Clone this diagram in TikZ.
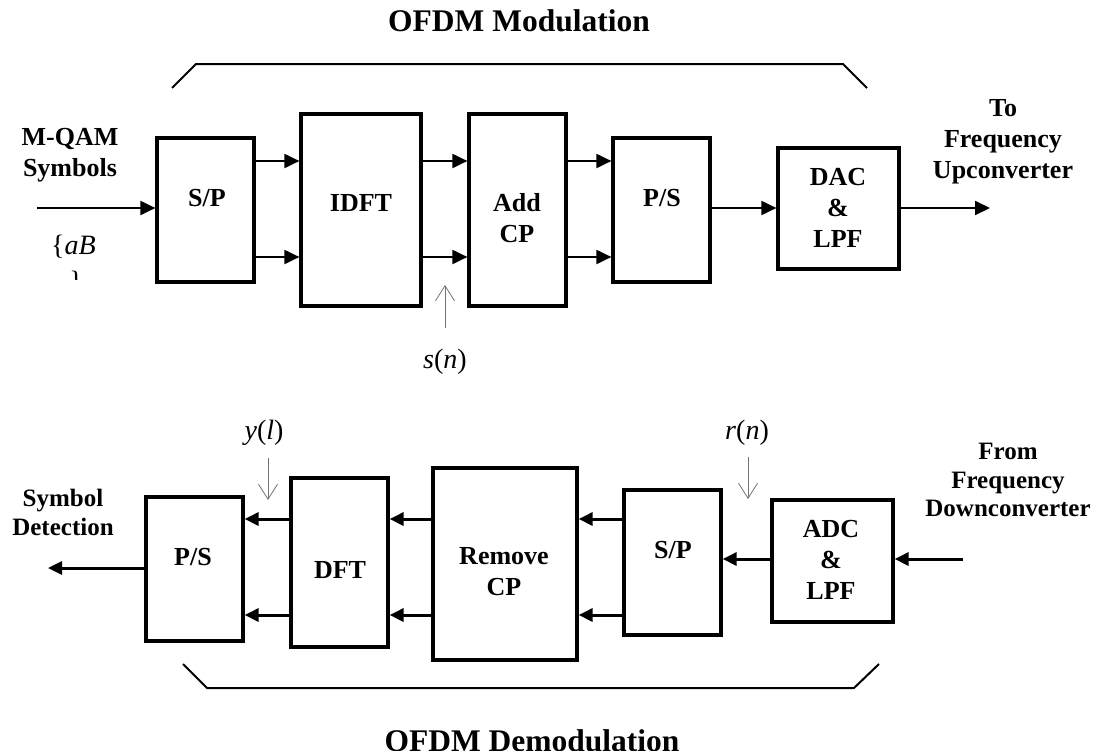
\documentclass[tikz,border=0pt]{standalone}
\usepackage{fontspec}
\setmainfont{Liberation Serif}
\usetikzlibrary{arrows.meta,calc}
\begin{document}
\begin{tikzpicture}[x=1pt,y=-1pt,
  box/.style={draw, line width=3.2pt, inner sep=0pt},
  lbl/.style={font=\fontsize{26}{31}\selectfont\bfseries, align=center, inner sep=0pt},
  side/.style={font=\fontsize{25}{28.5}\selectfont\bfseries, align=center, inner sep=0pt},
  arrT/.style={line width=2pt, -{Triangle[length=15pt,width=14pt]}},
  arrB/.style={line width=3pt, -{Triangle[length=14pt,width=13pt]}},
  sig/.style={line width=0.8pt, draw=black!55, -{Straight Barb[length=15pt,width=19pt,line width=0.8pt]}},
  bracket/.style={line width=2pt},
  ttl/.style={font=\fontsize{31.5}{36}\selectfont\bfseries, inner sep=0pt},
  mth/.style={font=\fontsize{28}{32}\selectfont, inner sep=0pt}
]
\useasboundingbox[fill=white] (0,0) rectangle (1097,755);

% titles (clipped like the original)
\begin{scope}
  \clip (0,0) rectangle (1097,31);
  \node[ttl, anchor=base] (t1) at (519,31) {OFDM Modulation};
\end{scope}
\begin{scope}
  \clip (0,700) rectangle (1097,750);
  \node[ttl, anchor=base] (t2) at (532,751) {OFDM Demodulation};
\end{scope}

% brackets
\draw[bracket] (172,88) -- (196,64) -- (843,64) -- (867,88);
\draw[bracket] (183,664) -- (207,688) -- (854,688) -- (879,664);

% ---------- top row ----------
\node[box, minimum width=97pt, minimum height=144pt] (sp1) at (205.5,210) {};
\node[box, minimum width=120pt, minimum height=192pt] (idft) at (361,210) {};
\node[box, minimum width=97pt, minimum height=192pt] (addcp) at (517.5,210) {};
\node[box, minimum width=97pt, minimum height=144pt] (ps1) at (661.5,210) {};
\node[box, minimum width=121pt, minimum height=121pt] (dac) at (838.5,208.5) {};

\node[lbl] (tsp1) at (207,198) {S/P};
\node[lbl] (tidft) at (361,203) {IDFT};
\node[lbl] (tadd) at (517,218) {Add\\CP};
\node[lbl] (tps1) at (662,198) {P/S};
\node[lbl] (tdac) at (838,208) {DAC\\\&\\LPF};

\node[lbl, anchor=north] (mqam) at (70,128) {M-QAM\\Symbols};
\node[lbl, anchor=north] (toup) at (1003,99) {To\\Frequency\\Upconverter};

\coordinate (ya) at (0,161);
\coordinate (yb) at (0,257);
\coordinate (ym) at (0,208);
\coordinate (inT) at (37,208);
\coordinate (outT) at (990,208);

\draw[arrT] (inT) -- (sp1.west |- inT);
\draw[arrT] (sp1.east |- ya) -- (idft.west |- ya);
\draw[arrT] (sp1.east |- yb) -- (idft.west |- yb);
\draw[arrT] (idft.east |- ya) -- (addcp.west |- ya);
\draw[arrT] (idft.east |- yb) -- (addcp.west |- yb);
\draw[arrT] (addcp.east |- ya) -- (ps1.west |- ya);
\draw[arrT] (addcp.east |- yb) -- (ps1.west |- yb);
\draw[arrT] (ps1.east |- ym) -- (dac.west |- ym);
\draw[arrT] (dac.east |- ym) -- (outT);

% {aB fragment
\node[mth, anchor=base west] (ab) at (51,254) {\{\textit{aB}};
\begin{scope}
  \clip (60,270) rectangle (95,279);
  \node[mth, anchor=north] (abc) at (76,271) {\}};
\end{scope}

% s(n)
\node[mth] (sn) at (445,362) {\textit{s}(\textit{n})};
\coordinate (snA) at (445,328);
\coordinate (snB) at (445,285);
\draw[sig] (snA) -- (snB);

% ---------- bottom row ----------
\node[box, minimum width=97pt, minimum height=144pt] (ps2) at (194.5,569) {};
\node[box, minimum width=97pt, minimum height=169pt] (dft) at (339.5,562.5) {};
\node[box, minimum width=144pt, minimum height=192pt] (rem) at (505,564) {};
\node[box, minimum width=97pt, minimum height=145pt] (sp2) at (672.5,562.5) {};
\node[box, minimum width=121pt, minimum height=122pt] (adc) at (832.5,561) {};

\node[lbl] (tps2) at (193,557) {P/S};
\node[lbl] (tdft) at (340,570) {DFT};
\node[lbl] (trem) at (504,572) {Remove\\CP};
\node[lbl] (tsp2) at (673,550) {S/P};
\node[lbl] (tadc) at (831,560) {ADC\\\&\\LPF};

\node[side, anchor=north] (symdet) at (63,489) {Symbol\\Detection};
\node[side, anchor=north] (fromdown) at (1008,443) {From\\Frequency\\Downconverter};

\coordinate (yc) at (0,519);
\coordinate (yd) at (0,615);
\coordinate (yin) at (0,559);
\coordinate (inB) at (963,559);
\coordinate (outB) at (48,568);

\draw[arrB] (inB) -- (adc.east |- inB);
\draw[arrB] (adc.west |- yin) -- (sp2.east |- yin);
\draw[arrB] (sp2.west |- yc) -- (rem.east |- yc);
\draw[arrB] (sp2.west |- yd) -- (rem.east |- yd);
\draw[arrB] (rem.west |- yc) -- (dft.east |- yc);
\draw[arrB] (rem.west |- yd) -- (dft.east |- yd);
\draw[arrB] (dft.west |- yc) -- (ps2.east |- yc);
\draw[arrB] (dft.west |- yd) -- (ps2.east |- yd);
\draw[arrB] (ps2.west |- outB) -- (outB);

% y(l), r(n)
\node[mth] (yl) at (264,433) {\textit{y}(\textit{l})};
\coordinate (ylA) at (268,458);
\coordinate (ylB) at (268,500);
\draw[sig] (ylA) -- (ylB);

\node[mth] (rn) at (747,433) {\textit{r}(\textit{n})};
\coordinate (rnA) at (748,457);
\coordinate (rnB) at (748,499);
\draw[sig] (rnA) -- (rnB);
\end{tikzpicture}
\end{document}
